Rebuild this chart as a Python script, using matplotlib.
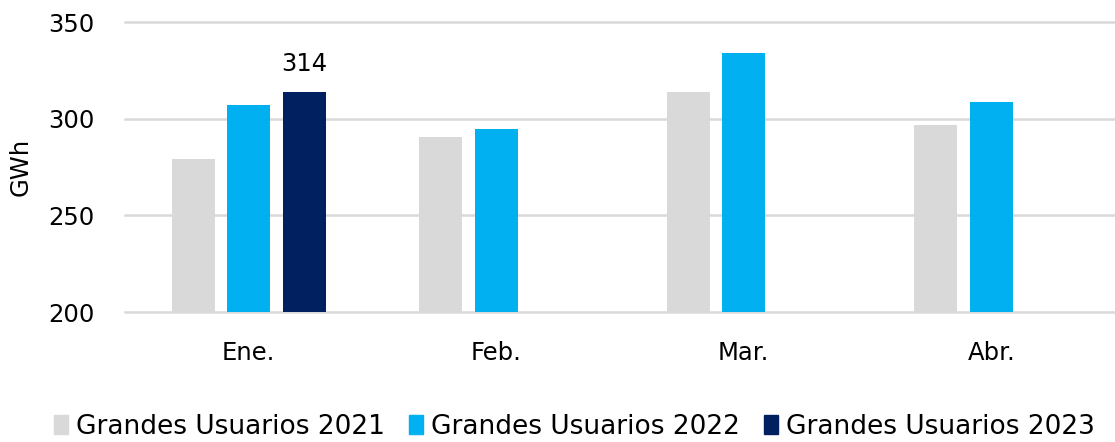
import numpy as np
import matplotlib
matplotlib.use('Agg')
import matplotlib.pyplot as plt
from matplotlib.patches import Patch

months = ["Ene.", "Feb.", "Mar.", "Abr."]
series_names = ["Grandes Usuarios 2021", "Grandes Usuarios 2022", "Grandes Usuarios 2023"]
gu_2021 = [279, 290.5, 314, 297]
gu_2022 = [307, 294.5, 334, 308.5]
gu_2023 = [314, np.nan, np.nan, np.nan]
colors = ["#D9D9D9", "#00B0F0", "#002060"]

plt.rcParams['font.family'] = ['DejaVu Sans']
fs = 17.5

fig = plt.figure(figsize=(11.15, 4.42), dpi=100)
ax = fig.add_axes([0.112, 0.294, 0.888, 0.656])

x = np.arange(len(months))
width = 0.173
offset = 0.224
for i, vals in enumerate([gu_2021, gu_2022, gu_2023]):
    ax.bar(x + (i - 1) * offset, vals, width, color=colors[i], zorder=3)

# etiqueta del ultimo dato
ax.text(x[0] + offset, gu_2023[0] + 8, f"{gu_2023[0]:.0f}", ha='center', va='bottom',
        fontsize=fs, color='black')

ax.set_ylim(200, 350)
ax.set_yticks([200, 250, 300, 350])
ax.set_xlim(-0.5, 3.5)
ax.set_xticks(x)
ax.set_xticklabels(months)
ax.yaxis.grid(True, color='#D9D9D9', linewidth=1.8, zorder=0)
for gl in ax.get_ygridlines():
    gl.set_clip_on(False)
ax.set_axisbelow(True)
for s in ax.spines.values():
    s.set_visible(False)
ax.tick_params(axis='both', length=0, labelsize=fs, colors='black')
ax.tick_params(axis='y', pad=22)
ax.tick_params(axis='x', pad=21)
ax.set_ylabel("GWh", fontsize=fs, labelpad=11)

handles = [Patch(color=c) for c in colors]
fig.legend(handles, series_names, loc='center', bbox_to_anchor=(0.515, 0.035), ncol=3,
           frameon=False, fontsize=19, handlelength=0.55, handleheight=0.75,
           handletextpad=0.3, columnspacing=0.9)

fig.savefig("out.png", dpi=100)
